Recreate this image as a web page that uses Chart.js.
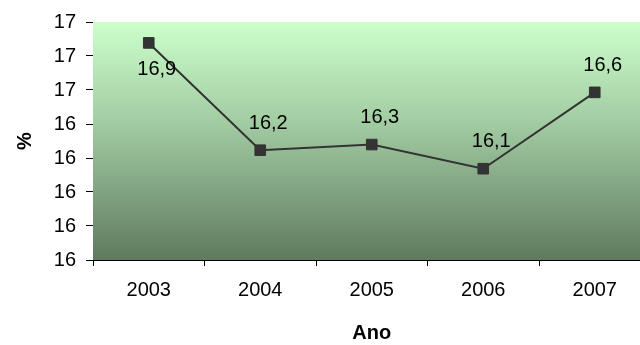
<!DOCTYPE html>
<html>
<head>
<meta charset="utf-8">
<script src="https://cdn.jsdelivr.net/npm/chart.js@4/dist/chart.umd.min.js"></script>
<style>
  html, body { margin: 0; padding: 0; background: #ffffff; width: 640px; height: 345px; overflow: hidden; }
  #wrap { position: relative; width: 659px; height: 345px; }
</style>
</head>
<body>
<div id="wrap"><canvas id="chart" width="659" height="345"></canvas></div>
<script>
// Percentage per year
const years = ['2003', '2004', '2005', '2006', '2007'];
const percent = [16.877, 16.246, 16.279, 16.137, 16.586];

// Value axis range and step
const yMin = 15.6;
const yMax = 17.0;
const yStep = 0.2;

const FONT = "'Liberation Sans', Arial, sans-serif";

// Vertical green gradient behind the plot area
const plotBackground = {
  id: 'plotBackground',
  beforeDatasetsDraw(chart) {
    const { ctx, chartArea: a } = chart;
    const g = ctx.createLinearGradient(0, a.top, 0, a.bottom);
    g.addColorStop(0, '#ccffcc');
    g.addColorStop(0.45, '#9fc89f');
    g.addColorStop(1, '#5f7a5f');
    ctx.save();
    ctx.fillStyle = g;
    ctx.fillRect(a.left, a.top, a.right - a.left, a.bottom - a.top);
    ctx.restore();
  }
};

// Value labels with decimal comma; the first one sits under its marker
const valueLabels = {
  id: 'valueLabels',
  afterDatasetsDraw(chart) {
    const { ctx } = chart;
    const meta = chart.getDatasetMeta(0);
    const values = chart.data.datasets[0].data;
    ctx.save();
    ctx.font = '20px ' + FONT;
    ctx.fillStyle = '#000000';
    ctx.textAlign = 'center';
    ctx.textBaseline = 'middle';
    meta.data.forEach((pt, i) => {
      const text = values[i].toFixed(1).replace('.', ',');
      const dy = i === 0 ? 27 : -27;
      ctx.fillText(text, pt.x + 8, pt.y + dy);
    });
    ctx.restore();
  }
};

new Chart(document.getElementById('chart'), {
  type: 'line',
  data: {
    labels: years,
    datasets: [{
      data: percent,
      borderColor: '#333333',
      borderWidth: 2,
      pointStyle: 'rect',
      pointRadius: 7.5,
      pointBackgroundColor: '#333333',
      pointBorderColor: '#333333',
      pointBorderWidth: 1,
      tension: 0,
      fill: false
    }]
  },
  options: {
    responsive: false,
    animation: false,
    devicePixelRatio: 1,
    layout: { padding: { top: 20, right: 0, bottom: 0, left: 0 } },
    plugins: {
      legend: { display: false },
      tooltip: { enabled: false },
      title: { display: false }
    },
    scales: {
      x: {
        type: 'category',
        offset: true,
        afterFit(scale) { scale.height = 85; },
        grid: {
          offset: true,
          drawOnChartArea: false,
          drawTicks: true,
          tickLength: 6,
          color: '#000000'
        },
        border: { display: true, color: '#000000', width: 1 },
        ticks: {
          color: '#000000',
          font: { family: FONT, size: 20 },
          padding: 12,
          maxRotation: 0,
          autoSkip: false
        },
        title: {
          display: true,
          text: 'Ano',
          color: '#000000',
          font: { family: FONT, size: 20, weight: 'bold' },
          padding: { top: 0, bottom: 0 }
        }
      },
      y: {
        min: yMin,
        max: yMax,
        afterFit(scale) { scale.width = 93; },
        grid: {
          drawOnChartArea: false,
          drawTicks: true,
          tickLength: 7,
          color: '#000000'
        },
        border: { display: true, color: '#000000', width: 1 },
        ticks: {
          stepSize: yStep,
          color: '#000000',
          font: { family: FONT, size: 20 },
          padding: 10,
          callback: (v) => String(Math.round(v))
        },
        title: {
          display: true,
          text: '%',
          color: '#000000',
          font: { family: FONT, size: 20, weight: 'bold' },
          padding: { top: 13, bottom: 0 }
        }
      }
    }
  },
  plugins: [plotBackground, valueLabels]
});
</script>
</body>
</html>
